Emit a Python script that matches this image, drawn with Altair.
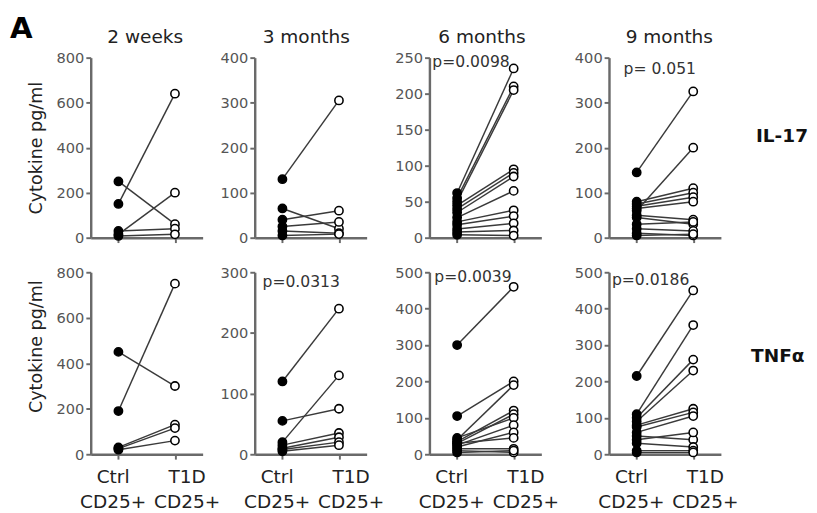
import altair as alt
import pandas as pd

FONT = "DejaVu Sans"
AX = "#6a6a6a"

panel_tag = "A"
times = ["2 weeks", "3 months", "6 months", "9 months"]
cytokines = ["IL-17", "TNFα"]
groups = ["Ctrl", "T1D"]

# IL-17 (top row), paired values per panel
il17_ctrl_2w = [250, 150, 15, 30, 8]
il17_t1d_2w = [60, 640, 200, 40, 15]
il17_ctrl_3m = [130, 65, 40, 25, 15, 5]
il17_t1d_3m = [305, 20, 60, 35, 10, 8]
il17_ctrl_6m = [62, 55, 50, 45, 40, 35, 28, 22, 18, 12, 8, 4]
il17_t1d_6m = [235, 210, 205, 95, 90, 85, 65, 38, 30, 20, 10, 3]
il17_ctrl_9m = [145, 60, 80, 75, 70, 65, 50, 45, 30, 20, 10, 5]
il17_t1d_9m = [325, 200, 110, 100, 90, 80, 40, 30, 35, 15, 5, 8]

# TNFα (bottom row)
tnf_ctrl_2w = [450, 190, 30, 25, 20]
tnf_t1d_2w = [300, 750, 130, 115, 60]
tnf_ctrl_3m = [120, 55, 20, 15, 10, 8, 5]
tnf_t1d_3m = [240, 75, 130, 35, 28, 20, 15]
tnf_ctrl_6m = [300, 105, 40, 35, 30, 45, 25, 20, 30, 15, 10, 5]
tnf_t1d_6m = [460, 200, 190, 120, 110, 100, 80, 60, 45, 15, 5, 10]
tnf_ctrl_9m = [215, 110, 100, 90, 80, 75, 60, 50, 40, 30, 10, 5]
tnf_t1d_9m = [450, 355, 260, 230, 125, 115, 105, 40, 60, 20, 10, 5]

il17_ymax = [800, 400, 250, 400]
il17_ticks = [[0, 200, 400, 600, 800], [0, 100, 200, 300, 400],
              [0, 50, 100, 150, 200, 250], [0, 100, 200, 300, 400]]
tnf_ymax = [800, 300, 500, 500]
tnf_ticks = [[0, 200, 400, 600, 800], [0, 100, 200, 300],
             [0, 100, 200, 300, 400, 500], [0, 100, 200, 300, 400, 500]]

il17_p = [None, None, "p=0.0098", "p= 0.051"]
tnf_p = [None, "p=0.0313", "p=0.0039", "p=0.0186"]
il17_p_pos = [None, None, (3, 5), (15, 12)]
tnf_p_pos = [None, (8, 10), (5, 5), (3, 8)]
title_pos = [(56, -21), (53, -21), (54, -21), (62, -21)]

col_ext = [None, 36, 47, 52]


def text_layer(label, dx, dy, size, weight="normal", color="#333",
               baseline="middle", align="left"):
    return alt.Chart(pd.DataFrame({"label": [label]})).mark_text(
        align=align, baseline=baseline, font=FONT, fontSize=size,
        fontWeight=weight, color=color
    ).encode(text="label:N", x=alt.value(dx), y=alt.value(dy))


def make_panel(ctrl, t1d, ymax, ticks, col, bottom, title, ptext, ppos, rowlabel, rlpos):
    rows = []
    for i, (c, t) in enumerate(zip(ctrl, t1d)):
        rows.append({"pair": i, "group": "Ctrl", "value": c})
        rows.append({"pair": i, "group": "T1D", "value": t})
    df = pd.DataFrame(rows)

    xkw = dict(title=None, grid=False, domainColor=AX, domainWidth=2.5,
               tickColor=AX, tickWidth=2, tickSize=5, labelAngle=0)
    if bottom:
        xkw.update(labels=True, labelExpr="[datum.label, 'CD25+']",
                   labelFont=FONT, labelFontSize=19, labelColor="#222",
                   labelLineHeight=26, labelPadding=9,
                   labelOffset={"condition": {"test": "datum.value === 'Ctrl'", "value": -6},
                                "value": 12})
    else:
        xkw.update(labels=False)

    ykw = dict(values=ticks, grid=False, domainColor=AX, domainWidth=2.5,
               tickColor=AX, tickWidth=2, tickSize=5, labelFont=FONT,
               labelFontSize=15, labelColor="#555", labelPadding=2, format="d")
    if col == 0:
        ykw.update(title="Cytokine pg/ml", titleFont=FONT, titleFontSize=18,
                   titleFontWeight="normal", titleColor="#222", titlePadding=11)
        if bottom:
            ykw.update(titleY=76)
    else:
        ykw.update(title=None, minExtent=col_ext[col])

    x = alt.X("group:N", scale=alt.Scale(type="point", domain=groups, padding=0.49),
              axis=alt.Axis(**xkw))
    y = alt.Y("value:Q", scale=alt.Scale(domain=[0, ymax], nice=False),
              axis=alt.Axis(**ykw))

    base = alt.Chart(df)
    lines = base.mark_line(color="#3a3a3a", strokeWidth=1.5).encode(
        x=x, y=y, detail="pair:N")
    pts = base.mark_point(shape="circle", filled=True, size=72, stroke="black",
                          strokeWidth=1.6, opacity=1).encode(
        x=x, y=y,
        fill=alt.Fill("group:N", scale=alt.Scale(domain=groups, range=["black", "white"]),
                      legend=None))
    layers = [lines, pts]
    if ptext:
        layers.append(text_layer(ptext, ppos[0], ppos[1], 16))
    if rowlabel:
        layers.append(text_layer(rowlabel, rlpos[0], rlpos[1], 19, "bold", "#111"))
    if title:
        layers.append(text_layer(title, title_pos[col][0], title_pos[col][1], 19,
                                 "normal", "#222", "middle", "center"))
    if col == 0 and not bottom:
        layers.append(text_layer(panel_tag, -83, -44, 30, "bold", "black", "top"))
    return alt.layer(*layers).properties(width=115, height=187 if bottom else 185)


il17_ctrl = [il17_ctrl_2w, il17_ctrl_3m, il17_ctrl_6m, il17_ctrl_9m]
il17_t1d = [il17_t1d_2w, il17_t1d_3m, il17_t1d_6m, il17_t1d_9m]
tnf_ctrl = [tnf_ctrl_2w, tnf_ctrl_3m, tnf_ctrl_6m, tnf_ctrl_9m]
tnf_t1d = [tnf_t1d_2w, tnf_t1d_3m, tnf_t1d_6m, tnf_t1d_9m]

columns = []
for c in range(4):
    top = make_panel(il17_ctrl[c], il17_t1d[c], il17_ymax[c], il17_ticks[c], c, False,
                     times[c], il17_p[c], il17_p_pos[c],
                     cytokines[0] if c == 3 else None, (151, 81))
    bot = make_panel(tnf_ctrl[c], tnf_t1d[c], tnf_ymax[c], tnf_ticks[c], c, True,
                     None, tnf_p[c], tnf_p_pos[c],
                     cytokines[1] if c == 3 else None, (146, 86))
    columns.append(alt.vconcat(top, bot, spacing=20.5))

chart = alt.hconcat(*columns, spacing=-0.5).properties(
    padding={"left": 2, "top": 0, "right": 0, "bottom": 0},
).configure_view(stroke=None)

chart.save("out.html", embed_options={"renderer": "svg", "actions": False})
